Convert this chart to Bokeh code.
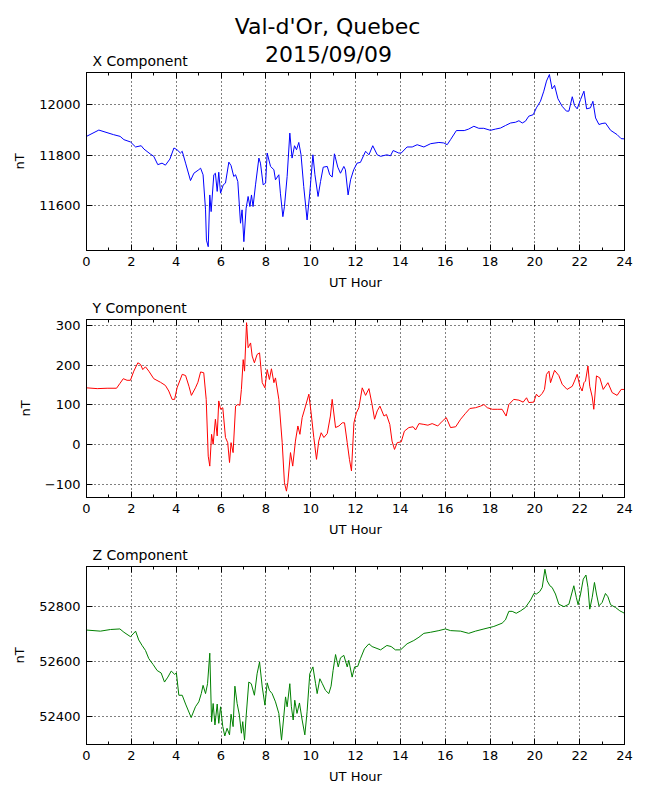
from bokeh.plotting import figure
from bokeh.layouts import column
from bokeh.models import Range1d, LinearAxis, Title, SingleIntervalTicker
from bokeh.core.properties import value
from bokeh.embed import file_html
from bokeh.resources import INLINE

FONT = "DejaVu Sans"

# ---------------- data ----------------
x_hours = [0, 0.55, 1.2, 1.5, 1.67, 1.96, 2.19, 2.44, 2.56, 2.85, 3.0, 3.18, 3.37, 3.52, 3.72, 3.9,
           4.04, 4.19, 4.27, 4.42, 4.64, 4.79, 5.01, 5.09, 5.2, 5.31, 5.35, 5.43, 5.5, 5.56, 5.68,
           5.75, 5.83, 5.9, 5.98, 6.1, 6.2, 6.35, 6.45, 6.57, 6.65, 6.75, 6.87, 6.94, 7.02, 7.12,
           7.21, 7.29, 7.36, 7.43, 7.54, 7.69, 7.76, 7.88, 7.99, 8.06, 8.21, 8.36, 8.43, 8.58, 8.65,
           8.76, 8.83, 8.95, 9.07, 9.17, 9.28, 9.37, 9.47, 9.57, 9.69, 9.84, 9.96, 10.1, 10.19,
           10.33, 10.44, 10.56, 10.74, 10.85, 10.96, 11.06, 11.21, 11.33, 11.48, 11.55, 11.67,
           11.78, 11.92, 12.07, 12.22, 12.45, 12.6, 12.77, 12.97, 13.12, 13.4, 13.56, 13.68, 13.93,
           14.04, 14.3, 14.53, 14.75, 15.05, 15.35, 15.72, 15.94, 16.09, 16.24, 16.5, 16.85, 17.05,
           17.28, 17.5, 17.72, 18.02, 18.25, 18.47, 18.69, 18.92, 19.14, 19.29, 19.44, 19.58,
           19.73, 19.93, 20.07, 20.25, 20.4, 20.52, 20.65, 20.77, 20.88, 21.03, 21.22, 21.41,
           21.52, 21.67, 21.77, 21.89, 22.04, 22.19, 22.31, 22.48, 22.59, 22.71, 22.86, 23.0,
           23.15, 23.38, 23.67, 23.85, 24.0]
x_values = [11874, 11899, 11881, 11874, 11861, 11852, 11832, 11837, 11824, 11804, 11795, 11762,
            11768, 11760, 11784, 11828, 11821, 11808, 11815, 11768, 11699, 11728, 11742, 11748,
            11722, 11583, 11463, 11437, 11642, 11576, 11722, 11728, 11656, 11732, 11649, 11682,
            11689, 11772, 11758, 11715, 11722, 11695, 11530, 11583, 11457, 11589, 11636, 11596,
            11642, 11596, 11682, 11788, 11768, 11682, 11689, 11808, 11755, 11742, 11702, 11722,
            11649, 11556, 11596, 11715, 11887, 11788, 11837, 11821, 11850, 11801, 11676, 11543,
            11649, 11801, 11722, 11636, 11695, 11752, 11755, 11722, 11713, 11805, 11752, 11728,
            11755, 11742, 11642, 11702, 11742, 11768, 11771, 11815, 11801, 11837, 11801, 11795,
            11801, 11797, 11818, 11808, 11808, 11832, 11832, 11841, 11832, 11845, 11850, 11848,
            11841, 11861, 11897, 11897, 11903, 11914, 11906, 11906, 11898, 11903, 11907, 11917,
            11927, 11930, 11936, 11927, 11934, 11954, 11960, 11987, 12013, 12053, 12093, 12119,
            12062, 12076, 12023, 11993, 11974, 11974, 12031, 11996, 11983, 12020, 12053, 11983,
            11987, 12013, 11947, 11921, 11925, 11927, 11898, 11881, 11865, 11864]

y_hours = [0, 0.48, 0.92, 1.34, 1.49, 1.64, 1.81, 1.96, 2.11, 2.29, 2.41, 2.51, 2.63, 2.78, 3.0,
           3.3, 3.52, 3.67, 3.82, 3.93, 4.04, 4.27, 4.42, 4.57, 4.68, 4.86, 4.97, 5.09, 5.23, 5.34,
           5.43, 5.5, 5.58, 5.65, 5.75, 5.83, 5.9, 5.98, 6.08, 6.2, 6.3, 6.38, 6.45, 6.54, 6.65,
           6.75, 6.84, 6.91, 6.99, 7.05, 7.14, 7.21, 7.32, 7.39, 7.49, 7.61, 7.72, 7.84, 7.96,
           8.06, 8.16, 8.25, 8.36, 8.43, 8.58, 8.73, 8.83, 8.92, 8.98, 9.1, 9.2, 9.32, 9.43, 9.52,
           9.62, 9.77, 9.92, 10.02, 10.14, 10.26, 10.36, 10.47, 10.59, 10.74, 10.88, 10.96, 11.11,
           11.26, 11.41, 11.51, 11.63, 11.73, 11.82, 11.93, 12.04, 12.15, 12.3, 12.45, 12.6,
           12.74, 12.85, 12.97, 13.09, 13.27, 13.38, 13.53, 13.63, 13.74, 13.86, 14.04, 14.18,
           14.38, 14.57, 14.68, 14.83, 15.05, 15.23, 15.42, 15.67, 15.87, 16.05, 16.24, 16.47,
           16.69, 16.91, 17.1, 17.35, 17.58, 17.73, 17.88, 18.1, 18.32, 18.54, 18.72, 18.84,
           19.06, 19.29, 19.48, 19.63, 19.73, 19.95, 20.07, 20.18, 20.33, 20.43, 20.52, 20.63,
           20.7, 20.88, 21.07, 21.22, 21.44, 21.67, 21.77, 21.89, 22.01, 22.11, 22.19, 22.26,
           22.37, 22.45, 22.56, 22.63, 22.75, 22.9, 23.05, 23.26, 23.45, 23.67, 23.85, 24.0]
y_values = [143, 141, 142, 142, 154, 166, 162, 162, 185, 206, 202, 189, 196, 185, 166, 157, 149,
            135, 114, 114, 143, 177, 174, 147, 124, 143, 157, 183, 181, 114, -29, -54, 26, 1, 64,
            22, 110, 89, 93, 18, 5, -45, 5, -20, 97, 101, 99, 139, 214, 185, 307, 244, 256, 223,
            206, 227, 231, 156, 143, 189, 164, 191, 156, 168, 114, 5, -96, -117, -96, -20, -54, 9,
            47, 26, 68, 97, 127, 80, 18, -37, 9, 30, 18, 28, 72, 114, 43, 47, 55, 55, 5, -37, -66,
            55, 80, 93, 143, 124, 141, 101, 64, 85, 97, 72, 76, 51, 9, -12, 5, 7, 34, 43, 45, 37,
            53, 51, 49, 53, 47, 59, 68, 43, 45, 64, 79, 91, 93, 97, 101, 93, 89, 89, 89, 72, 101,
            114, 112, 107, 118, 106, 107, 127, 120, 129, 139, 177, 185, 156, 187, 174, 152, 139,
            147, 160, 177, 147, 135, 156, 160, 198, 147, 120, 89, 173, 168, 139, 156, 131, 124,
            139, 139]

z_hours = [0, 0.62, 1.07, 1.49, 1.67, 1.96, 2.08, 2.19, 2.33, 2.48, 2.63, 2.78, 2.97, 3.15, 3.33,
           3.48, 3.63, 3.78, 3.93, 4.01, 4.12, 4.27, 4.42, 4.67, 4.86, 5.01, 5.12, 5.2, 5.31, 5.4,
           5.5, 5.58, 5.65, 5.73, 5.83, 5.9, 5.98, 6.08, 6.17, 6.27, 6.38, 6.45, 6.54, 6.62, 6.72,
           6.82, 6.91, 6.97, 7.05, 7.12, 7.24, 7.35, 7.49, 7.61, 7.72, 7.84, 7.96, 8.06, 8.16,
           8.28, 8.43, 8.58, 8.7, 8.8, 8.88, 8.95, 9.07, 9.14, 9.22, 9.29, 9.39, 9.5, 9.62, 9.74,
           9.84, 9.96, 10.1, 10.22, 10.29, 10.41, 10.52, 10.66, 10.81, 10.91, 11.0, 11.11, 11.23,
           11.33, 11.48, 11.63, 11.7, 11.85, 11.96, 12.1, 12.22, 12.4, 12.6, 12.74, 13.12, 13.4,
           13.59, 13.78, 14.01, 14.3, 14.6, 14.83, 15.05, 15.35, 15.72, 16.01, 16.24, 16.69,
           17.05, 17.35, 17.73, 18.17, 18.54, 18.69, 18.84, 18.99, 19.17, 19.37, 19.58, 19.81,
           19.96, 20.07, 20.22, 20.33, 20.45, 20.55, 20.67, 20.77, 20.92, 21.07, 21.3, 21.52,
           21.64, 21.74, 21.85, 21.93, 22.04, 22.16, 22.28, 22.37, 22.45, 22.56, 22.66, 22.75,
           22.86, 23.0, 23.15, 23.26, 23.38, 23.6, 23.79, 24.0]
z_values = [52714, 52710, 52716, 52718, 52706, 52690, 52700, 52710, 52678, 52658, 52640, 52610,
            52589, 52567, 52558, 52525, 52543, 52565, 52553, 52558, 52477, 52477, 52445, 52396,
            52435, 52453, 52483, 52513, 52483, 52519, 52630, 52381, 52447, 52369, 52445, 52375,
            52435, 52363, 52329, 52357, 52333, 52408, 52363, 52510, 52447, 52405, 52339, 52381,
            52314, 52399, 52525, 52519, 52477, 52555, 52598, 52507, 52441, 52522, 52495, 52483,
            52453, 52411, 52314, 52399, 52471, 52435, 52519, 52435, 52387, 52459, 52411, 52449,
            52387, 52333, 52417, 52555, 52580, 52519, 52483, 52537, 52519, 52495, 52483, 52510,
            52567, 52625, 52580, 52613, 52622, 52580, 52604, 52543, 52580, 52582, 52610, 52646,
            52664, 52654, 52642, 52658, 52654, 52642, 52642, 52664, 52676, 52688, 52702, 52706,
            52712, 52718, 52712, 52710, 52702, 52710, 52718, 52727, 52739, 52751, 52782, 52782,
            52775, 52784, 52796, 52823, 52847, 52845, 52854, 52869, 52935, 52893, 52875, 52869,
            52845, 52808, 52799, 52808, 52845, 52875, 52833, 52806, 52845, 52899, 52914, 52869,
            52790, 52833, 52887, 52845, 52802, 52814, 52847, 52835, 52806, 52796, 52784, 52775]

x_limits = (11422, 12127)
y_limits = (-133, 315)
z_limits = (52298, 52945)
hour_tick_step = 2
main_title = ["Val-d'Or, Quebec", "2015/09/09"]
panel_titles = ["X Component", "Y Component", "Z Component"]

BORDER_L, BORDER_R = 86, 16
FRAME_W, FRAME_H = 538, 178
HEADER_H = 70


def style_axis(ax, show_labels=True):
    ax.axis_line_color = "black"
    ax.major_tick_in = 6
    ax.major_tick_out = 0
    ax.minor_tick_in = 3
    ax.minor_tick_out = 0
    ax.major_tick_line_color = "black"
    ax.minor_tick_line_color = "black"
    if show_labels:
        ax.major_label_text_font = FONT
        ax.major_label_text_font_size = "13px"
        ax.major_label_text_color = "black"
        ax.major_label_standoff = 6
        ax.axis_label_text_font = FONT
        ax.axis_label_text_font_size = "13px"
        ax.axis_label_text_font_style = "normal"
        ax.axis_label_text_color = "black"
        ax.axis_label_standoff = 6
    else:
        ax.major_label_text_font_size = "1px"
        ax.major_label_text_color = None
        ax.major_label_text_alpha = 0
        ax.major_label_standoff = 0


# ---- header band: suptitle + first panel title; its frame spans page pixels 86..624 x 0..70 ----
header = figure(frame_width=FRAME_W, frame_height=HEADER_H,
                x_range=Range1d(BORDER_L, BORDER_L + FRAME_W), y_range=Range1d(HEADER_H, 0),
                x_axis_location=None, y_axis_location=None,
                min_border_left=BORDER_L, min_border_right=BORDER_R,
                min_border_top=0, min_border_bottom=0,
                toolbar_location=None, output_backend="svg", title=None)
header.outline_line_color = None
header.background_fill_color = "white"
header.border_fill_color = "white"
header.grid.visible = False
header.text(x=[327, 328], y=[26, 54], text=main_title, text_align="center",
            text_baseline="middle", text_font=value(FONT), text_font_size="22px",
            text_color="black")
header.text(x=[92], y=[60], text=[panel_titles[0]], text_align="left",
            text_baseline="middle", text_font=value(FONT), text_font_size="14px",
            text_color="black")


def panel(hours, vals, color, limits, ystep, comp, top, bottom):
    p = figure(frame_width=FRAME_W, frame_height=FRAME_H, x_range=Range1d(0, 24),
               y_range=Range1d(*limits), output_backend="svg", toolbar_location=None,
               min_border_left=BORDER_L, min_border_right=BORDER_R,
               min_border_top=top, min_border_bottom=bottom, title=None,
               x_axis_label="UT Hour", y_axis_label="nT")
    p.background_fill_color = "white"
    p.border_fill_color = "white"
    p.outline_line_color = "black"
    p.outline_line_width = 1
    p.xaxis.ticker = SingleIntervalTicker(interval=hour_tick_step, num_minor_ticks=2)
    p.yaxis.ticker = SingleIntervalTicker(interval=ystep, num_minor_ticks=0)
    style_axis(p.xaxis[0])
    style_axis(p.yaxis[0])
    p.yaxis.axis_label_standoff = 9
    for g in (p.xgrid[0], p.ygrid[0]):
        g.grid_line_color = "black"
        g.grid_line_dash = "1 3"
        g.grid_line_width = 1
    top_ax = LinearAxis(ticker=SingleIntervalTicker(interval=hour_tick_step, num_minor_ticks=2))
    style_axis(top_ax, show_labels=False)
    p.add_layout(top_ax, "above")
    right_ax = LinearAxis(ticker=SingleIntervalTicker(interval=ystep, num_minor_ticks=0))
    style_axis(right_ax, show_labels=False)
    p.add_layout(right_ax, "right")

    p.line(hours, vals, line_color=color, line_width=1)

    if comp is not None:
        p.add_layout(Title(text=comp, align="left", offset=6, text_font=FONT,
                           text_font_size="14px", text_font_style="normal",
                           text_color="black", vertical_align="top", standoff=4), "above")
    return p


p1 = panel(x_hours, x_values, "#0000ff", x_limits, 200, None, 72 - HEADER_H, 44)
p2 = panel(y_hours, y_values, "#ff0000", y_limits, 100, panel_titles[1], 25, 44)
p3 = panel(z_hours, z_values, "#008000", z_limits, 200, panel_titles[2], 25, 44)

layout = column(header, p1, p2, p3, spacing=0)
open("out.html", "w").write(file_html(layout, INLINE))
